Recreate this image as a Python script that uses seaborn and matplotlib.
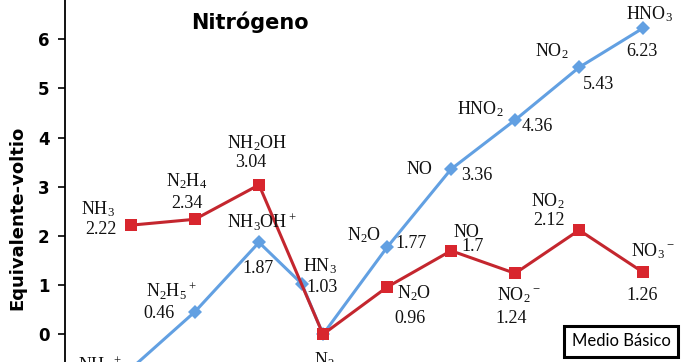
import matplotlib
matplotlib.use("Agg")
import matplotlib.pyplot as plt
import seaborn as sns
import pandas as pd

# ---- data ----
acid_ox = [-3, -2, -1, -1/3, 0, 1, 2, 3, 4, 5]
acid_vals = [-0.70, 0.46, 1.87, 1.03, 0.0, 1.77, 3.36, 4.36, 5.43, 6.23]
acid_names = [r"NH$_4$$^+$", r"N$_2$H$_5$$^+$", r"NH$_3$OH$^+$", r"HN$_3$", "",
              r"N$_2$O", "NO", r"HNO$_2$", r"NO$_2$", r"HNO$_3$"]
acid_vlabels = ["", "0.46", "1.87", "1.03", "", "1.77", "3.36", "4.36", "5.43", "6.23"]

basic_ox = [-3, -2, -1, 0, 1, 2, 3, 4, 5]
basic_vals = [2.22, 2.34, 3.04, 0.0, 0.96, 1.70, 1.24, 2.12, 1.26]
basic_names = [r"NH$_3$", r"N$_2$H$_4$", r"NH$_2$OH", r"N$_2$", r"N$_2$O", "NO",
               r"NO$_2$$^-$", r"NO$_2$", r"NO$_3$$^-$"]
basic_vlabels = ["2.22", "2.34", "3.04", "", "0.96", "1.7", "1.24", "2.12", "1.26"]

y_ticks = [0, 1, 2, 3, 4, 5, 6]

# label offsets (pixels, dx right, dy down) relative to markers
acid_name_off = [(-31, -3), (-24, -20), (3, -20), (18, -18), (0, 0),
                 (-23, -12), (-32, 0), (-35, -11), (-27, -16), (6, -14)]
acid_val_off = [(0, 0), (-36, 2), (-1, 26), (20, 4), (0, 0),
                (24, -4), (26, 6), (22, 7), (19, 17), (-1, 23)]
basic_name_off = [(-33, -16), (-8, -38), (-2, -42), (1, 26), (27, 6),
                  (15, -18), (4, 22), (-31, -29), (10, -21)]
basic_val_off = [(-30, 4), (-8, -16), (-8, -22), (0, 0), (23, 31),
                 (22, -4), (-4, 45), (-30, -10), (-1, 23)]

BLUE = "#62A0E2"
RED = "#C4262E"

df = pd.concat([
    pd.DataFrame({"ox": acid_ox, "val": acid_vals, "serie": "acido"}),
    pd.DataFrame({"ox": basic_ox, "val": basic_vals, "serie": "basico"}),
], ignore_index=True)

sns.set_style("white")
plt.rcParams["font.family"] = ["DejaVu Sans"]
plt.rcParams["mathtext.default"] = "regular"
plt.rcParams["text.color"] = "black"
plt.rcParams["ytick.color"] = "black"
plt.rcParams["axes.labelcolor"] = "black"

fig = plt.figure(figsize=(6.88, 3.62), dpi=100)
ax = fig.add_axes([65 / 688, 0, 1 - 65 / 688, 1])

sns.lineplot(data=df, x="ox", y="val", hue="serie", style="serie",
             palette={"acido": BLUE, "basico": RED},
             markers={"acido": "D", "basico": "s"}, dashes=False,
             sort=False, legend=False, linewidth=2.2, markeredgewidth=0,
             ax=ax)
for line in ax.lines:
    if line.get_marker() == "D":
        line.set_markersize(7)
        line.set_zorder(2)
    else:
        line.set_markersize(8.5)
        line.set_zorder(3)
        line.set_markerfacecolor("#D8262E")

ax.set_xlim(-4.03, 5.70)
ax.set_ylim(-0.563, 6.80)
ax.set_yticks(y_ticks)
ax.set_xticks([])
ax.set_xlabel("")
for s in ["top", "right", "bottom"]:
    ax.spines[s].set_visible(False)
ax.spines["left"].set_color("black")
ax.spines["left"].set_linewidth(1.3)
ax.tick_params(axis="y", direction="out", length=5, width=1.2, color="black",
               labelcolor="black", left=True, pad=6, labelsize=12)
for t in ax.get_yticklabels():
    t.set_fontweight("bold")

ax.set_ylabel("Equivalente-voltio", fontsize=13, fontweight="bold", va="center",
              color="black")
ax.yaxis.set_label_coords(-0.076, 0.398)

serif = ["Liberation Serif", "DejaVu Serif"]
P = 0.72  # px -> points


def put(x, y, text, off):
    if not text:
        return
    ax.annotate(text, xy=(x, y), xytext=(off[0] * P, -off[1] * P),
                textcoords="offset points", ha="center", va="center",
                fontsize=13, family=serif, color="#111111", annotation_clip=False)


for x, y, n, v, no, vo in zip(acid_ox, acid_vals, acid_names, acid_vlabels,
                              acid_name_off, acid_val_off):
    put(x, y, n, no)
    put(x, y, v, vo)
for x, y, n, v, no, vo in zip(basic_ox, basic_vals, basic_names, basic_vlabels,
                              basic_name_off, basic_val_off):
    put(x, y, n, no)
    put(x, y, v, vo)

fig.text(250 / 688, 1 - 22 / 362, "Nitrógeno", ha="center", va="center",
         fontsize=15, fontweight="heavy", color="black")

fig.text(621 / 688, 1 - 341 / 362, "Medio Básico", ha="center", va="center",
         fontsize=12, family=["Lato", "DejaVu Sans"], color="black",
         bbox=dict(boxstyle="square,pad=0.45", facecolor="white",
                   edgecolor="black", linewidth=2.2))

fig.savefig("out.png", dpi=100)
